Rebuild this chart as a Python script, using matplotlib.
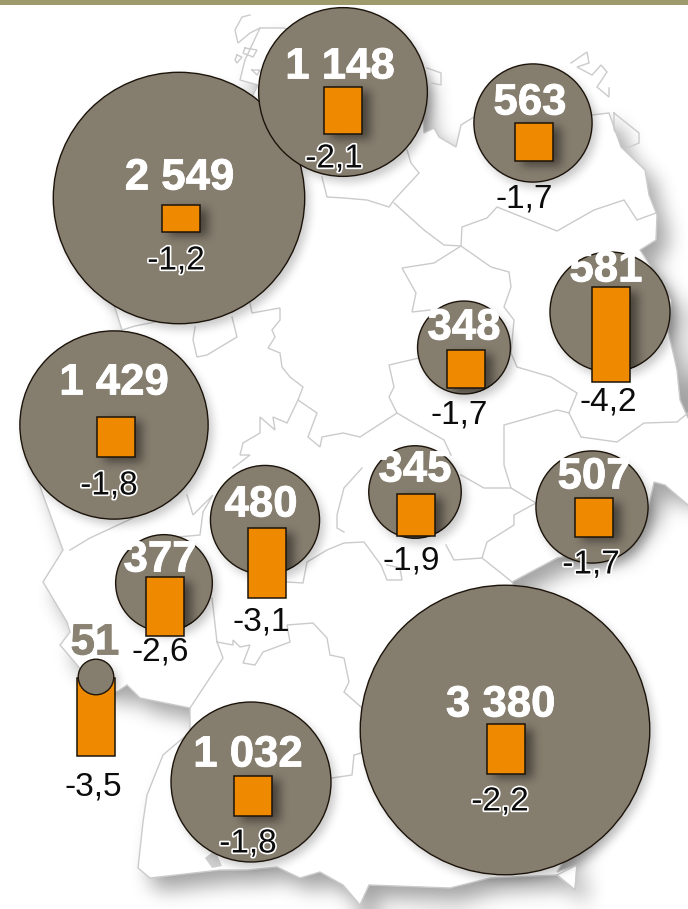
import numpy as np
import matplotlib
matplotlib.use("Agg")
import matplotlib.pyplot as plt
from matplotlib.patches import Circle, Rectangle, Polygon
from matplotlib.path import Path
import matplotlib.patheffects as pe

# ---------- data ----------
values = [2549, 1148, 563, 581, 348, 1429, 480, 377, 51, 1032, 345, 507, 3380]
changes = [-1.2, -2.1, -1.7, -4.2, -1.7, -1.8, -3.1, -2.6, -3.5, -1.8, -1.9, -1.7, -2.2]

# ---------- layout (map anchors in pixel space) ----------
W, H = 688, 909
circle_xy = [(179, 198), (343, 92), (533, 123), (610, 312), (464, 347.5), (114, 425), (265, 520),
             (164, 583), (96, 677), (251, 782), (415, 492), (592, 507), (505, 730)]
bar_xy = [(181, 218), (343, 110.5), (534, 142), (611, 334.5), (466, 369), (115.5, 437), (267, 563),
          (165, 606.5), (96, 717), (253, 796), (416, 515), (594, 517.5), (506, 749)]
value_xy = [(179.5, 178), (340, 67), (530, 103), (606, 270), (464, 328), (114, 383), (261, 505),
            (160, 560), (95, 643), (248, 755), (415, 470), (594, 477), (500.7, 705)]
change_xy = [(176, 261), (334, 159), (524, 199), (608, 402), (459, 415), (109, 486), (261, 622),
             (160, 652), (93, 787), (248, 844), (411, 561), (591, 565), (500, 802)]
halo = [True, True, False, False, False, True, False, False, False, True, False, True, True]
R_SCALE = 2.49
BAR_SCALE = 22.5
BAR_W = 38

GREY_TXT = "#8a8272"
CIRCLE = "#857d6e"
ORANGE = "#ef8a00"
EDGE = "#1c140a"
LINE = "#cbcbcb"
BAND = "#9f9a6c"

outline = [(260, 28), (283, 28), (340, 40), (420, 70), (424, 133), (434, 128), (439, 137), (456, 147),
           (461, 125), (474, 117), (530, 100), (592, 115), (609, 113), (621, 147), (645, 170), (649, 195),
           (657, 215), (656, 240), (640, 250), (650, 265), (672, 300), (668, 330), (677, 370), (680, 400),
           (688, 418), (720, 440), (720, 530), (688, 505), (665, 485), (654, 482), (649, 505), (620, 545),
           (557, 558), (512, 582), (540, 640), (600, 800), (557, 872), (577, 865), (575, 890), (557, 875),
           (490, 878), (450, 888), (369, 885), (360, 905), (343, 885), (320, 872), (300, 878), (277, 867),
           (247, 870), (220, 870), (150, 878), (138, 868), (143, 822), (147, 795), (163, 755), (190, 732),
           (190, 708), (140, 698), (127, 685), (117, 692), (90, 680), (60, 645), (70, 632), (67, 622),
           (43, 582), (63, 550), (42, 492), (25, 440), (60, 360), (122, 330), (100, 260), (130, 140),
           (230, 100), (253, 95), (258, 85), (240, 80), (245, 60)]

borders = [
    [(122, 330), (135, 326), (155, 322)],
    [(195, 327), (193, 340), (197, 357), (207, 355), (237, 337), (232, 317)],
    [(250, 303), (252, 313), (280, 308), (280, 320), (272, 330), (275, 337), (268, 348), (280, 353),
     (282, 367), (290, 377), (303, 387), (298, 400), (317, 413), (308, 437), (320, 447), (322, 437),
     (343, 433), (360, 437), (397, 413), (389, 397), (394, 387), (389, 365), (419, 358)],
    [(298, 400), (287, 423), (273, 417), (275, 430), (260, 417), (260, 433), (243, 443), (240, 455),
     (250, 455), (233, 468)],
    [(187, 495), (193, 515), (213, 495), (203, 512), (200, 535), (167, 538)],
    [(133, 518), (90, 538), (70, 550)],
    [(212, 598), (217, 642), (223, 658), (190, 708)],
    [(217, 642), (233, 645), (233, 640), (240, 647), (250, 645), (243, 663), (255, 665), (263, 652),
     (290, 642), (287, 625), (313, 623), (327, 638), (330, 655), (344, 658), (349, 682), (344, 692),
     (361, 707)],
    [(287, 582), (303, 583), (307, 562), (327, 550), (344, 543), (364, 542), (381, 565), (387, 580),
     (402, 580), (400, 568), (387, 565)],
    [(362, 468), (344, 488), (337, 515), (337, 528), (344, 532)],
    [(461, 475), (484, 488), (511, 488), (504, 465), (504, 425), (557, 410), (569, 413), (577, 393),
     (551, 377), (517, 367), (511, 353), (514, 320), (504, 307), (511, 287), (509, 272), (491, 267),
     (461, 246), (434, 263), (402, 268), (416, 293), (412, 312), (430, 310)],
    [(511, 488), (536, 503), (514, 515), (514, 525), (487, 542), (482, 558), (501, 573), (512, 582)],
    [(482, 558), (454, 560), (446, 545)],
    [(569, 413), (581, 437), (617, 442), (644, 423), (677, 422), (688, 413)],
    [(397, 413), (414, 423), (444, 440), (451, 455)],
    [(361, 753), (354, 755), (352, 775), (332, 778)],
    [(322, 177), (327, 197), (344, 198), (367, 200), (389, 207), (394, 200), (419, 173), (411, 163), (407, 150)],
    [(394, 203), (424, 230), (444, 245), (461, 246), (462, 227), (487, 218), (497, 207), (557, 231),
     (594, 210), (624, 200), (637, 220), (656, 213)],
]

islands = [
    [(250, 15), (242, 17), (235, 30), (238, 43), (250, 33), (260, 28)],
    [(245, 48), (257, 50), (253, 57), (243, 53), (245, 48)],
    [(237, 55), (242, 57), (237, 63), (235, 60), (237, 55)],
    [(252, 70), (260, 70), (257, 75), (252, 70)],
    [(427, 68), (441, 73), (441, 85), (432, 83)],
    [(571, 63), (587, 52), (589, 63), (577, 67), (592, 75), (601, 65), (607, 72), (597, 87), (609, 97),
     (609, 88)],
    [(614, 113), (639, 133), (639, 143), (627, 148), (614, 130), (614, 113)],
    [(557, 875), (577, 865), (575, 890), (557, 875)],
]


# ---------- soft-shadow helpers ----------
def blur(a, r, passes=3):
    for axis in (0, 1):
        for _ in range(passes):
            pad = [(0, 0), (0, 0)]
            pad[axis] = (r + 1, r)
            c = np.cumsum(np.pad(a, pad, mode="edge"), axis=axis)
            if axis == 0:
                a = (c[2 * r + 1:, :] - c[:-2 * r - 1, :]) / (2 * r + 1)
            else:
                a = (c[:, 2 * r + 1:] - c[:, :-2 * r - 1]) / (2 * r + 1)
    return a


yy, xx = np.mgrid[0:H, 0:W]


def shadow(ax, mask, dx, dy, r, strength, z):
    m = np.zeros((H, W))
    m[dy:, dx:] = mask[:H - dy, :W - dx].astype(float)
    b = blur(m, r) * strength
    rgba = np.zeros((H, W, 4))
    rgba[..., 3] = np.clip(b, 0, 1)
    ax.imshow(rgba, extent=(0, W, H, 0), zorder=z, interpolation="bilinear", aspect="auto")


fig = plt.figure(figsize=(W / 100, H / 100), dpi=100, facecolor="white")
ax = fig.add_axes([0, 0, 1, 1])

# Germany shadow + white land + borders
pts = np.column_stack([xx.ravel() + 0.5, yy.ravel() + 0.5])
land = Path(outline + [outline[0]]).contains_points(pts).reshape(H, W)
shadow(ax, land, 11, 13, 9, 0.36, 1)
ax.add_patch(Polygon(outline, closed=True, fc="white", ec=LINE, lw=1.0, zorder=2))
for seg in borders + islands:
    s = np.array(seg)
    ax.plot(s[:, 0], s[:, 1], color=LINE, lw=1.0, zorder=3, solid_joinstyle="miter")
ax.add_patch(Polygon([(205, 858), (215, 850), (222, 866), (212, 868)], closed=True, fc="#cfcfcf", ec="none", zorder=3))

# circle shadows
radii = [R_SCALE * np.sqrt(v) for v in values]
cmask = np.zeros((H, W), bool)
for (cx, cy), r in zip(circle_xy, radii):
    cmask |= (xx - cx) ** 2 + (yy - cy) ** 2 <= r ** 2
shadow(ax, cmask, 4, 5, 4, 0.22, 4)

# circles (small values on top), the 51 circle sits over its own bar
for (cx, cy), r, v in sorted(zip(circle_xy, radii, values), key=lambda t: -t[2]):
    ax.add_patch(Circle((cx, cy), r, fc=CIRCLE, ec=EDGE, lw=1.0, zorder=8 if v == 51 else 5))

# bars and their shadow (visible on the dark discs only)
heights = [abs(c) * BAR_SCALE for c in changes]
bmask = np.zeros((H, W), bool)
for (bx, by), h in zip(bar_xy, heights):
    bmask |= (np.abs(xx - bx) <= BAR_W / 2) & (np.abs(yy - by) <= h / 2)
bm = np.zeros((H, W))
bm[4:, 7:] = bmask[:H - 4, :W - 7]
ba = blur(bm, 4) * 0.45 * cmask
rgba = np.zeros((H, W, 4))
rgba[..., 3] = ba
ax.imshow(rgba, extent=(0, W, H, 0), zorder=6, interpolation="bilinear", aspect="auto")
for (bx, by), h in zip(bar_xy, heights):
    ax.add_patch(Rectangle((bx - BAR_W / 2, by - h / 2), BAR_W, h, fc=ORANGE, ec=EDGE, lw=1.1, zorder=7))

# labels
for (x, y), v in zip(value_xy, values):
    txt = f"{v:,}".replace(",", " ")
    col = GREY_TXT if v == 51 else "white"
    ax.text(x, y, txt, ha="center", va="center", family="Liberation Sans", weight="bold",
            fontsize=31.5, color=col, zorder=10,
            path_effects=[pe.withStroke(linewidth=0.6, foreground=col)])
for (x, y), c, h in zip(change_xy, changes, halo):
    txt = f"{c:.1f}".replace(".", ",")
    kw = {"path_effects": [pe.withStroke(linewidth=2.4, foreground="white")]} if h else {}
    ax.text(x, y, txt, ha="center", va="center", family="Liberation Sans", fontsize=24,
            color="#0c0c0c", zorder=11, **kw)

ax.add_patch(Rectangle((0, 0), W, 4.5, fc=BAND, ec="none", zorder=12))
ax.set_xlim(0, W)
ax.set_ylim(H, 0)
ax.axis("off")
fig.savefig("out.png", dpi=100, facecolor="white")
